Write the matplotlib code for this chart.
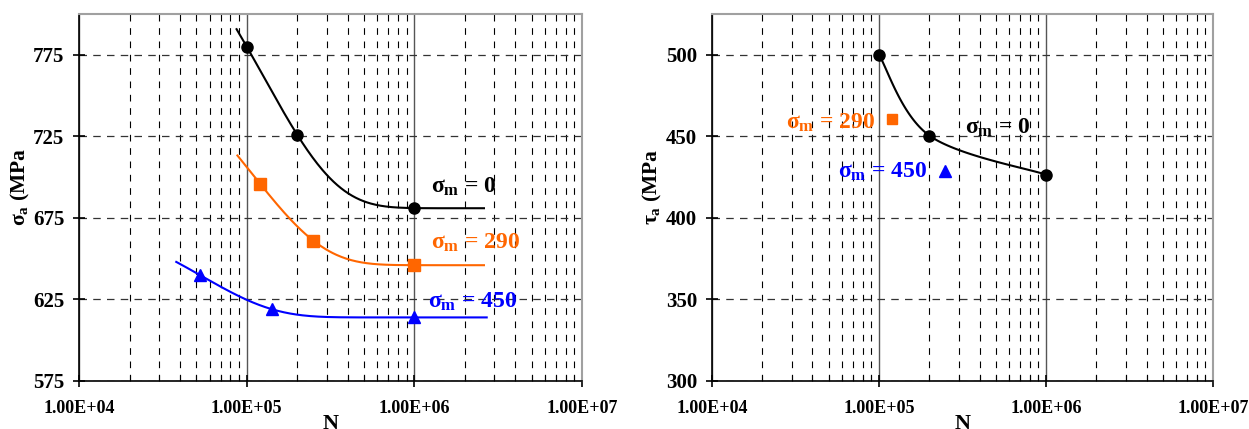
import numpy as np
import matplotlib.pyplot as plt
from matplotlib.ticker import LogLocator, NullFormatter, FixedLocator

plt.rcParams['font.family'] = ['Liberation Serif', 'DejaVu Serif']
plt.rcParams['font.weight'] = 'bold'
plt.rcParams['mathtext.fontset'] = 'custom'
plt.rcParams['mathtext.rm'] = 'Liberation Serif:bold'
plt.rcParams['mathtext.it'] = 'Liberation Serif:bold'
plt.rcParams['mathtext.bf'] = 'Liberation Serif:bold'

# left chart: sigma_a vs N
n_m0 = [1.0e5, 2.0e5, 1.0e6]
s_m0 = [780, 726, 681]
n_m290 = [1.2e5, 2.5e5, 1.0e6]
s_m290 = [696, 661, 646]
n_m450 = [5.25e4, 1.41e5, 1.0e6]
s_m450 = [640, 619, 614]
span_m0 = [8.7e4, 2.6e6]
span_m290 = [8.8e4, 2.6e6]
span_m450 = [3.8e4, 2.7e6]

# right chart: tau_a vs N
n_t0 = [1.0e5, 2.0e5, 1.0e6]
t_t0 = [500, 450.5, 426.5]
n_t290 = [1.2e5]
t_t290 = [460.5]
n_t450 = [2.5e5]
t_t450 = [429]

x_ticks = [1e4, 1e5, 1e6, 1e7]
x_labels = ['1.00E+04', '1.00E+05', '1.00E+06', '1.00E+07']

black = '#000000'
orange = '#ff6600'
blue = '#0000ff'


def fit_curve(n, y, lo, hi):
    # trend y = a + b*exp(-N/tau), tau by grid search
    x = np.array(n) / 1e5
    y = np.array(y, dtype=float)
    best = None
    for tau in np.linspace(0.2, 5, 481):
        A = np.column_stack([np.ones_like(x), np.exp(-x / tau)])
        coef = np.linalg.lstsq(A, y, rcond=None)[0]
        err = np.sum((A @ coef - y) ** 2)
        if best is None or err < best[0]:
            best = (err, tau, coef)
    _, tau, coef = best
    xs = np.logspace(np.log10(lo), np.log10(hi), 200)
    return xs, coef[0] + coef[1] * np.exp(-(xs / 1e5) / tau)


def smooth_line(n, y, steps=40):
    # catmull-rom through the points in log-x space (like a smoothed line)
    u = np.log10(n)
    P = np.column_stack([u, y])
    P = np.vstack([P[0], P, P[-1]])
    out = []
    t = np.linspace(0, 1, steps)[:, None]
    for i in range(1, len(P) - 2):
        p0, p1, p2, p3 = P[i - 1], P[i], P[i + 1], P[i + 2]
        m1 = (p2 - p0) / 2
        m2 = (p3 - p1) / 2
        h00 = 2 * t**3 - 3 * t**2 + 1
        h10 = t**3 - 2 * t**2 + t
        h01 = -2 * t**3 + 3 * t**2
        h11 = t**3 - t**2
        out.append(h00 * p1 + h10 * m1 + h01 * p2 + h11 * m2)
    out = np.vstack(out)
    return 10 ** out[:, 0], out[:, 1]


def style(ax, ylo, yhi, yticks):
    ax.set_xscale('log')
    ax.set_xlim(1e4, 1e7)
    ax.set_ylim(ylo, yhi)
    ax.xaxis.set_major_locator(FixedLocator(x_ticks))
    ax.set_xticklabels(x_labels, fontsize=13, fontweight='bold')
    ax.xaxis.set_minor_locator(LogLocator(base=10, subs=np.arange(2, 10)))
    ax.xaxis.set_minor_formatter(NullFormatter())
    ax.set_yticks(yticks)
    ax.set_yticklabels([str(v) for v in yticks], fontsize=15, fontweight='bold')
    ax.grid(True, which='major', axis='x', color='#555555', linestyle='-', linewidth=1)
    ax.grid(True, which='minor', axis='x', color='black', linestyle=(0, (6, 6)), linewidth=0.8)
    ax.grid(True, which='major', axis='y', color='#333333', linestyle=(0, (6, 5)), linewidth=0.9)
    for s in ['top', 'right']:
        ax.spines[s].set_color('#a0a0a0')
        ax.spines[s].set_linewidth(1.5)
    for s in ['left', 'bottom']:
        ax.spines[s].set_color('black')
        ax.spines[s].set_linewidth(1.2)
    ax.tick_params(axis='both', which='major', width=1.2)
    ax.tick_params(axis='x', which='major', direction='inout', length=9, pad=9)
    ax.tick_params(axis='x', which='minor', direction='in', length=4, width=0.8)
    ax.tick_params(axis='y', direction='inout', length=9, pad=6)
    ax.set_xlabel('N', fontsize=16, fontweight='bold', labelpad=-2)


fig = plt.figure(figsize=(12.49, 4.29), dpi=100)
ax1 = fig.add_axes([0.0633, 0.1119, 0.4027, 0.8555])
ax2 = fig.add_axes([0.5700, 0.1119, 0.4012, 0.8555])

# left
style(ax1, 575, 800, [575, 625, 675, 725, 775])
for n, s, span, c, mk in [(n_m0, s_m0, span_m0, black, 'o'),
                          (n_m290, s_m290, span_m290, orange, 's'),
                          (n_m450, s_m450, span_m450, blue, '^')]:
    xs, ys = fit_curve(n, s, *span)
    ax1.plot(xs, ys, color=c, linewidth=1.5, zorder=3)
    ax1.plot(n, s, linestyle='none', marker=mk, color=c, markersize=8, zorder=4)
ax1.set_ylabel(r'$\sigma_{\rm a}$ (MPa', fontsize=15.5, fontweight='bold')
ax1.yaxis.set_label_coords(-0.094, 0.53)
ax1.text(1.25e6, 694, r'$\sigma_{\rm m}$ = 0', color=black, fontsize=17, va='center')
ax1.text(1.25e6, 659.5, r'$\sigma_{\rm m}$ = 290', color=orange, fontsize=17, va='center')
ax1.text(1.2e6, 623.5, r'$\sigma_{\rm m}$ = 450', color=blue, fontsize=17, va='center')

# right
style(ax2, 300, 525, [300, 350, 400, 450, 500])
xs, ys = smooth_line(n_t0, t_t0)
ax2.plot(xs, ys, color=black, linewidth=1.5, zorder=3)
ax2.plot(n_t0, t_t0, linestyle='none', marker='o', color=black, markersize=8, zorder=4)
ax2.plot(n_t290, t_t290, linestyle='none', marker='s', color=orange, markersize=7, zorder=4)
ax2.plot(n_t450, t_t450, linestyle='none', marker='^', color=blue, markersize=8, zorder=4)
ax2.set_ylabel(r'$\tau_{\rm a}$ (MPa', fontsize=15.5, fontweight='bold')
ax2.yaxis.set_label_coords(-0.096, 0.53)
ax2.text(3.29e5, 455.3, r'$\sigma_{\rm m}$ = 0', color=black, fontsize=17, va='center')
ax2.text(2.77e4, 458.4, r'$\sigma_{\rm m}$ = 290', color=orange, fontsize=17, va='center')
ax2.text(5.7e4, 428.4, r'$\sigma_{\rm m}$ = 450', color=blue, fontsize=17, va='center')

fig.savefig('out.png', dpi=100)
